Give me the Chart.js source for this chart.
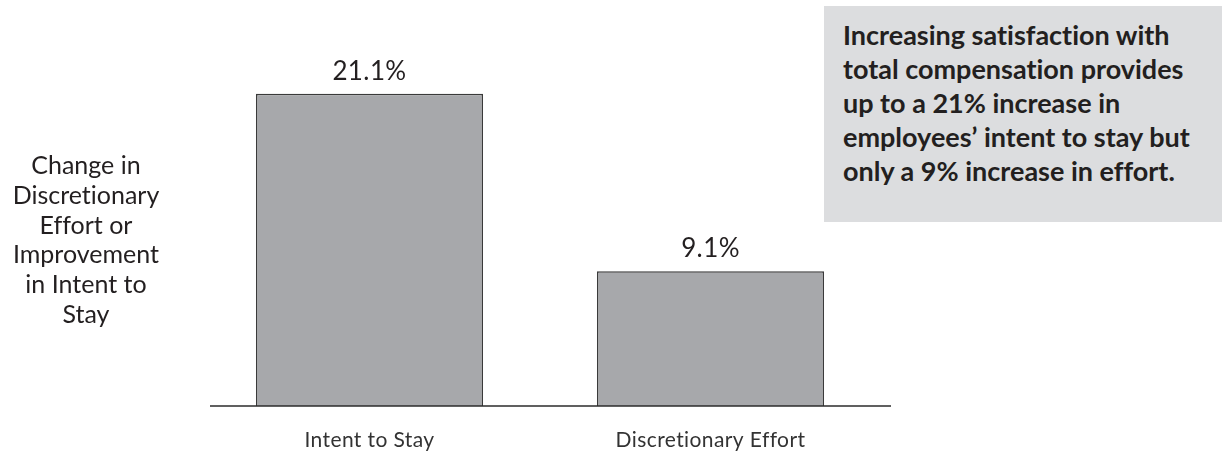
<!DOCTYPE html>
<html>
<head>
<meta charset="utf-8">
<script src="https://cdn.jsdelivr.net/npm/chart.js@4.4.1/dist/chart.umd.min.js"></script>
<style>
  html, body { margin: 0; padding: 0; background: #fff; }
  .wrap { position: relative; width: 1222px; height: 457px; overflow: hidden; font-family: Lato, "Open Sans", sans-serif; color: #231f20; font-variant-ligatures: none; }
  #chart { position: absolute; left: 0; top: 0; }
  .y-title { position: absolute; left: 0; width: 172px; top: 150px; text-align: center; font-size: 25px; line-height: 29.8px; }
  .note { position: absolute; left: 824px; top: 6px; width: 398px; height: 216px; background: #dcdddf; box-sizing: border-box; padding: 12px 0 0 19px; font-weight: bold; font-size: 27px; line-height: 34px; white-space: nowrap; }
</style>
</head>
<body>
<div class="wrap">
  <canvas id="chart" width="1222" height="457"></canvas>
  <div class="y-title">Change in<br>Discretionary<br>Effort or<br>Improvement<br>in Intent to<br>Stay</div>
  <div class="note">Increasing satisfaction with<br>total compensation provides<br>up to a 21% increase in<br>employees’ intent to stay but<br>only a 9% increase in effort.</div>
</div>
<script>
// Data
const categories = ['Intent to Stay', 'Discretionary Effort'];
const changeValues = [21.1, 9.1];

const textColor = '#231f20';

// Value labels above each bar
const valueLabels = {
    id: 'valueLabels',
    beforeDraw(chart) {
        // small letter spacing keeps canvas text from using the "ti" ligature
        chart.ctx.letterSpacing = '0.4px';
    },
    afterDatasetsDraw(chart) {
        const ctx = chart.ctx;
        const meta = chart.getDatasetMeta(0);
        ctx.save();
        ctx.font = '26px Lato, "Open Sans", sans-serif';
        ctx.fillStyle = textColor;
        ctx.textAlign = 'center';
        ctx.textBaseline = 'alphabetic';
        meta.data.forEach((bar, i) => {
            ctx.fillText(changeValues[i].toFixed(1) + '%', bar.x, bar.y - 14);
        });
        ctx.restore();
    }
};

// Baseline under the bars, a bit wider on the right like the original
const baseline = {
    id: 'baseline',
    afterDatasetsDraw(chart) {
        const ctx = chart.ctx;
        const y = chart.scales.y.getPixelForValue(0);
        ctx.save();
        ctx.strokeStyle = '#2b2b2b';
        ctx.lineWidth = 1.5;
        ctx.beginPath();
        ctx.moveTo(chart.chartArea.left + 11, y);
        ctx.lineTo(chart.chartArea.right + 10, y);
        ctx.stroke();
        ctx.restore();
    }
};

new Chart(document.getElementById('chart'), {
    type: 'bar',
    data: {
        labels: categories,
        datasets: [{
            data: changeValues,
            backgroundColor: '#a7a8ab',
            borderColor: '#3a3a3a',
            borderWidth: 1.5,
            borderSkipped: 'bottom',
            categoryPercentage: 1,
            barPercentage: 0.666
        }]
    },
    options: {
        responsive: false,
        animation: false,
        layout: { padding: { left: 199, right: 341, top: 36, bottom: 0 } },
        scales: {
            x: {
                grid: { display: false, drawTicks: false },
                border: { display: false },
                ticks: {
                    color: '#333',
                    font: { family: 'Lato, "Open Sans", sans-serif', size: 21 },
                    padding: 22
                },
                afterFit(scale) { scale.height = 51; }
            },
            y: {
                display: false,
                min: 0,
                max: 25
            }
        },
        plugins: {
            legend: { display: false },
            tooltip: { enabled: false }
        }
    },
    plugins: [valueLabels, baseline]
});
</script>
</body>
</html>
